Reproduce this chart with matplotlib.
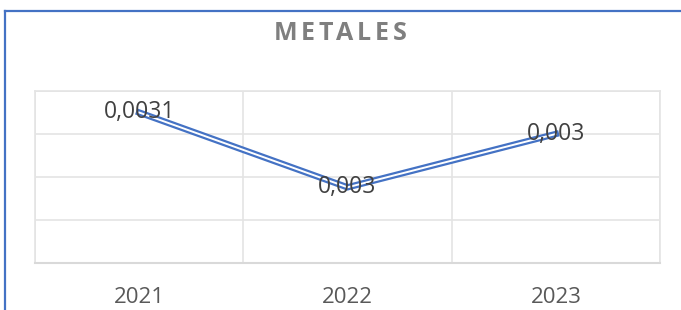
import matplotlib.pyplot as plt
from matplotlib.lines import Line2D
from matplotlib.ticker import MultipleLocator

years = ['2021', '2022', '2023']
values = [0.003075, 0.002988, 0.00305]
labels = ['0,0031', '0,003', '0,003']

blue = '#4472C4'
grey = '#595959'

plt.rcParams['font.family'] = ['Open Sans', 'DejaVu Sans']

fig = plt.figure(figsize=(6.81, 3.10), dpi=100)
ax = fig.add_axes([35/681, 47/310, 625/681, 172/310])

x = list(range(len(years)))
# double (compound) line: thick blue, thin white core
ax.plot(x, values, color=blue, lw=4.6, solid_joinstyle='miter', zorder=3)
ax.plot(x, values, color='white', lw=1.4, solid_joinstyle='miter', zorder=4)

for xi, v, t in zip(x, values, labels):
    ax.text(xi, v, t, ha='center', va='center', fontsize=16.5, color='#404040', zorder=5)

ax.set_xlim(-0.5, 2.5)
ax.set_ylim(0.0029, 0.0031)
ax.yaxis.set_major_locator(MultipleLocator(0.00005))
ax.set_xticks(x)
ax.set_xticklabels(years, fontsize=16, color=grey)
ax.set_xticks([-0.5, 0.5, 1.5, 2.5], minor=True)
ax.tick_params(axis='x', which='both', length=0, pad=17.5)
ax.tick_params(axis='y', length=0, labelleft=False)
ax.grid(True, axis='y', color='#e4e4e4', lw=1.2)
ax.grid(True, axis='x', which='minor', color='#e4e4e4', lw=1.2)
for s in ['top', 'left', 'right']:
    ax.spines[s].set_color('#e4e4e4')
    ax.spines[s].set_linewidth(1.2)
ax.spines['bottom'].set_color('#d9d9d9')
ax.spines['bottom'].set_linewidth(1.5)

# title with letter spacing
title = 'METALES'
renderer = fig.canvas.get_renderer()
widths = []
for ch in title:
    t = fig.text(0, 0, ch, fontsize=18, fontweight='bold')
    widths.append(t.get_window_extent(renderer).width)
    t.remove()
gap = 3.5
total = sum(widths) + gap * (len(title) - 1)
xpos = 340 - total / 2
for ch, w in zip(title, widths):
    fig.text(xpos / 681, 1 - 34/310, ch, fontsize=18, fontweight='bold',
             color='#7f7f7f', va='center', ha='left')
    xpos += w + gap

# chart frame (top and left edges visible)
fig.add_artist(Line2D([5/681, 1], [1 - 11/310, 1 - 11/310], color=blue, lw=1.6))
fig.add_artist(Line2D([5/681, 5/681], [0, 1 - 11/310], color=blue, lw=1.6))

fig.savefig('out.png', dpi=100)
